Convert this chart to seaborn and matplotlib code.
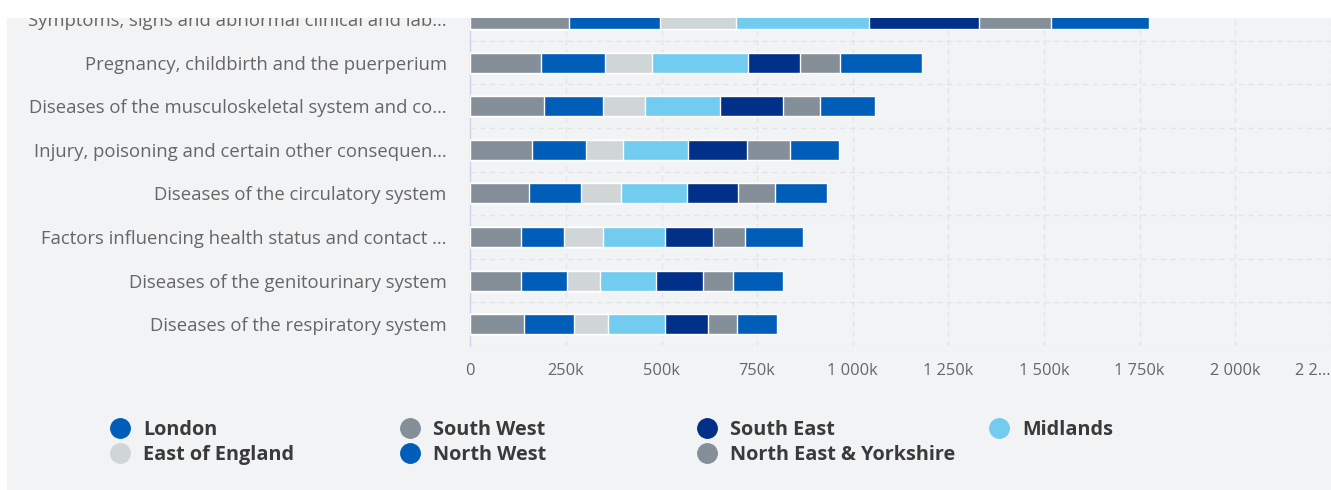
import numpy as np
import pandas as pd
import matplotlib
matplotlib.use("Agg")
import matplotlib.pyplot as plt
from matplotlib.lines import Line2D
from matplotlib.patches import Rectangle
import seaborn as sns

# ---------------- data ----------------
categories = [
    "Symptoms, signs and abnormal clinical and lab…",
    "Pregnancy, childbirth and the puerperium",
    "Diseases of the musculoskeletal system and co…",
    "Injury, poisoning and certain other consequen…",
    "Diseases of the circulatory system",
    "Factors influencing health status and contact …",
    "Diseases of the genitourinary system",
    "Diseases of the respiratory system",
]
london = [257000, 213000, 143000, 126000, 136000, 152000, 130000, 104000]
south_west = [188000, 106000, 98000, 114000, 96000, 85000, 79000, 75000]
south_east = [288000, 135000, 164000, 153000, 134000, 126000, 123000, 114000]
midlands = [347000, 252000, 197000, 171000, 171000, 162000, 148000, 148000]
east_of_england = [201000, 124000, 110000, 96000, 106000, 101000, 84000, 88000]
north_west = [237000, 166000, 153000, 141000, 136000, 113000, 122000, 131000]
north_east_yorkshire = [258000, 185000, 193000, 162000, 153000, 132000, 132000, 141000]

series_names = ["London", "South West", "South East", "Midlands",
                "East of England", "North West", "North East & Yorkshire"]
series_values = [london, south_west, south_east, midlands,
                 east_of_england, north_west, north_east_yorkshire]
series_colors = ["#005eb8", "#848f99", "#003087", "#71ccef",
                 "#d0d5d6", "#005eb8", "#848f99"]

x_ticks = [0, 250000, 500000, 750000, 1000000, 1250000, 1500000, 1750000, 2000000, 2250000]
x_tick_labels = ["0", "250k", "500k", "750k", "1 000k", "1 250k", "1 500k", "1 750k", "2 000k", "2 2…"]

# ---------------- figure ----------------
W, H = 1331, 490
PANEL = "#f2f3f5"
fig = plt.figure(figsize=(W / 100, H / 100), dpi=100, facecolor=PANEL)

ax_left, ax_right, ax_bottom = 470.3, 1330.7, 346.0
band = 43.6
ax_top = ax_bottom - band * len(categories)
ax = fig.add_axes([ax_left / W, (H - ax_bottom) / H,
                   (ax_right - ax_left) / W, (ax_bottom - ax_top) / H])
ax.set_facecolor(PANEL)

# stacked bars: Highcharts stacks first series at the far right
df = pd.DataFrame({"category": categories})
stack_order = series_names[::-1]  # left -> right
vals = dict(zip(series_names, series_values))
cols = dict(zip(series_names, series_colors))
cum = np.zeros(len(categories))
cums = {}
for name in stack_order:
    cum = cum + np.array(vals[name], dtype=float)
    cums[name] = cum.copy()
for name in series_names:  # draw longest cumulative first
    df["v"] = cums[name]
    sns.barplot(data=df, x="v", y="category", order=categories, orient="h",
                color=cols[name], width=0.46, edgecolor="white", linewidth=1,
                errorbar=None, saturation=1, ax=ax, zorder=3)

ax.set_xlim(0, 2250000)
ax.set_ylim(len(categories) - 0.5, -0.5)
ax.set_xlabel("")
ax.set_ylabel("")

ax.set_xticks(x_ticks)
ax.set_xticklabels(x_tick_labels)
ax.set_yticks(np.arange(-0.5, len(categories)), minor=True)
ax.tick_params(axis="x", length=0, pad=12, labelsize=11.8, labelcolor="#666666")
ax.tick_params(axis="y", which="major", length=0, pad=17, labelsize=13.35, labelcolor="#666666")
ax.tick_params(axis="y", which="minor", length=0)
for lab in ax.get_xticklabels() + ax.get_yticklabels():
    lab.set_fontfamily("Open Sans")
ax.get_xticklabels()[-1].set_ha("right")

ax.grid(False)
ax.grid(axis="x", which="major", color="#e3e4e6", linestyle=(0, (4, 3)), linewidth=1, zorder=0)
ax.grid(axis="y", which="minor", color="#e3e4e6", linestyle=(0, (4, 3)), linewidth=1, zorder=0)
ax.set_axisbelow(True)
for s in ["top", "right", "bottom"]:
    ax.spines[s].set_visible(False)
ax.spines["left"].set_color("#ccd6eb")
ax.spines["left"].set_linewidth(1)

# legend (row-major, 4 columns of fixed width)
col_x = [110, 400, 697, 989]
rows = [series_names[0:4], series_names[4:7]]
columns = [[rows[r][c] for r in range(2) if c < len(rows[r])] for c in range(4)]
for c, names in enumerate(columns):
    handles = [Line2D([0], [0], marker="o", linestyle="none", markersize=14,
                      markerfacecolor=cols[n], markeredgecolor=cols[n]) for n in names]
    leg = fig.legend(handles, names, loc="upper left",
                     bbox_to_anchor=(col_x[c] / W, (H - 420) / H),
                     frameon=False, ncol=1, borderpad=0, borderaxespad=0,
                     handlelength=1.0, handletextpad=0.65, labelspacing=0.25,
                     prop={"family": "Open Sans", "weight": "bold", "size": 14.3})
    for t in leg.get_texts():
        t.set_color("#3a3a3a")

# white outer margins (page background)
fig.patches.append(Rectangle((0, (H - 18) / H), 1, 18 / H, transform=fig.transFigure,
                             facecolor="white", edgecolor="none", zorder=50))
fig.patches.append(Rectangle((0, 0), 7 / W, 1, transform=fig.transFigure,
                             facecolor="white", edgecolor="none", zorder=50))

fig.savefig("out.png", dpi=100, facecolor=PANEL)
